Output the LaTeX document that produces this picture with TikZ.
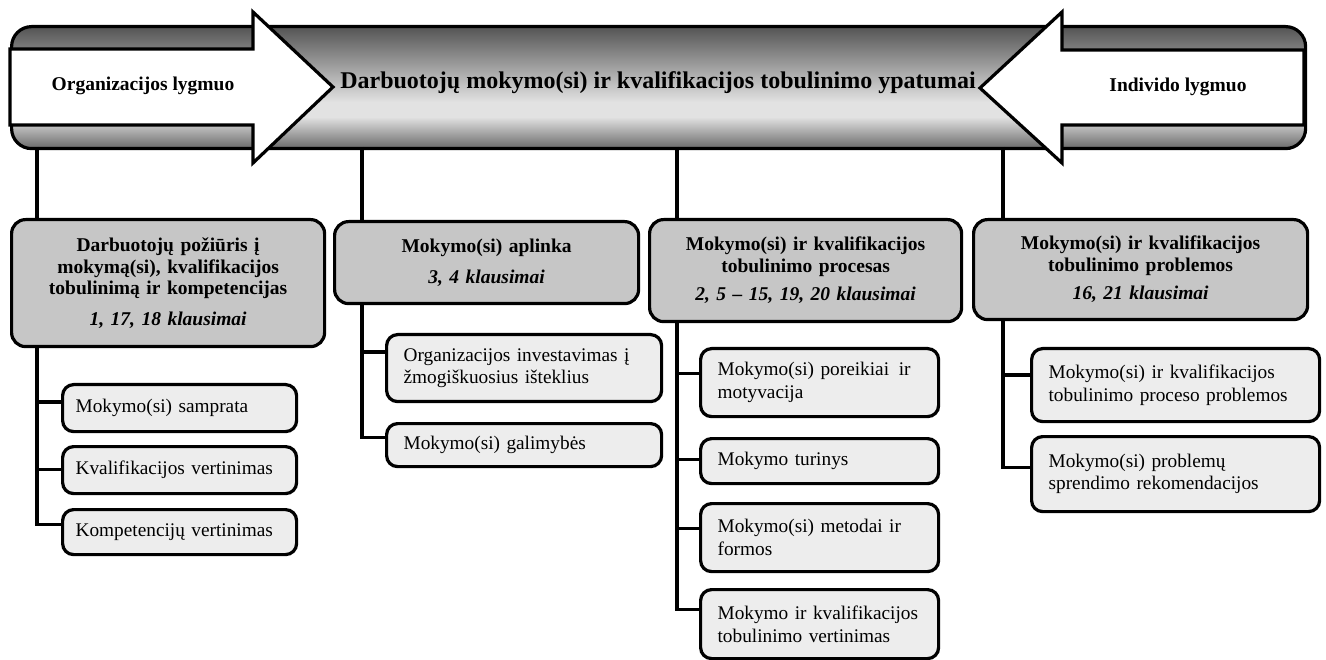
\documentclass[tikz,border=0pt]{standalone}
\usepackage{fontspec}
\setmainfont{Liberation Serif}
\definecolor{bnbot}{HTML}{6A6A6A}
\definecolor{bnlight}{HTML}{E2E2E2}
\definecolor{bntop}{HTML}{545454}
\definecolor{parentgray}{HTML}{C6C6C6}
\definecolor{childgray}{HTML}{EDEDED}
\pgfdeclareverticalshading{bannershade}{100bp}{color(0bp)=(bnbot); color(25bp)=(bnbot); color(38bp)=(bnlight); color(44bp)=(bnlight); color(75bp)=(bntop); color(100bp)=(bntop)}
\begin{document}
\begin{tikzpicture}[x=1pt,y=-1pt,
  link/.style={line width=3.2pt},
  pbox/.style={draw=black, line width=3.2pt, rounded corners=14pt, fill=parentgray,
    anchor=north west, inner sep=0pt, align=center,
    font=\fontsize{19.5}{21.5}\selectfont\bfseries},
  cbox/.style={draw=black, line width=3.2pt, rounded corners=11pt, fill=childgray,
    anchor=north west, inner xsep=17pt, inner ysep=0pt, align=left,
    font=\fontsize{19.3}{22.5}\selectfont},
  levelarrow/.style={draw=black, line width=3.2pt, fill=white, line join=miter},
  levellabel/.style={font=\fontsize{19.5}{23}\selectfont\bfseries}
]
\useasboundingbox (0,0) rectangle (1326,660);

% shaded top banner
\node[draw=black, line width=3.2pt, rounded corners=20pt, shading=bannershade,
  minimum width=1294pt, minimum height=122pt, anchor=north west, inner sep=0pt]
  (banner) at (10,25) {};

% two white arrows pointing to the centre
\draw[levelarrow] (10,49) -- (253,49) -- (253,12) -- (333,87) -- (253,163)
  -- (253,125) -- (10,125) -- cycle;
\draw[levelarrow] (1304,50) -- (1062,50) -- (1062,12) -- (980,88) -- (1062,163)
  -- (1062,125) -- (1304,125) -- cycle;

\node[levellabel] (org) at (143,86) {Organizacijos lygmuo};
\node[levellabel] (ind) at (1178,87) {Individo lygmuo};
\node[font=\fontsize{24}{28}\selectfont\bfseries] (title) at (658,83)
  {Darbuotojų mokymo(si) ir kvalifikacijos tobulinimo ypatumai};

% main topics
\node[pbox, minimum width=313pt, minimum height=127pt, text width=299pt] (p1) at (10,218)
  {Darbuotojų požiūris į\\mokymą(si), kvalifikacijos\\tobulinimą ir kompetencijas\\[9pt]\textit{1, 17, 18 klausimai}};
\node[pbox, minimum width=304pt, minimum height=82pt, text width=290pt] (p2) at (333,220)
  {Mokymo(si) aplinka\\[9pt]\textit{3, 4 klausimai}};
\node[pbox, minimum width=312pt, minimum height=102pt, text width=298pt] (p3) at (648,218)
  {Mokymo(si) ir kvalifikacijos\\tobulinimo procesas\\[7pt]\textit{2, 5 – 15, 19, 20 klausimai}};
\node[pbox, minimum width=334pt, minimum height=100pt, text width=320pt] (p4) at (972,218)
  {Mokymo(si) ir kvalifikacijos\\tobulinimo problemos\\[7pt]\textit{16, 21 klausimai}};

% subtopics
\node[cbox, inner xsep=13pt, minimum width=234pt, minimum height=47pt, text width=208pt] (c11) at (61,383) {Mokymo(si) samprata};
\node[cbox, inner xsep=13pt, minimum width=234pt, minimum height=47pt, text width=208pt] (c12) at (61,445) {Kvalifikacijos vertinimas};
\node[cbox, inner xsep=13pt, minimum width=234pt, minimum height=45pt, text width=208pt] (c13) at (61,508) {Kompetencijų vertinimas};

\node[cbox, minimum width=275pt, minimum height=67pt, text width=241pt] (c21) at (385,333) {Organizacijos investavimas į\\žmogiškuosius išteklius};
\node[cbox, minimum width=275pt, minimum height=43pt, text width=241pt] (c22) at (385,422) {Mokymo(si) galimybės};

\node[cbox, minimum width=238pt, minimum height=68pt, text width=204pt] (c31) at (699,347) {Mokymo(si) poreikiai\, ir\\motyvacija};
\node[cbox, minimum width=238pt, minimum height=45pt, text width=204pt] (c32) at (699,437) {Mokymo turinys};
\node[cbox, minimum width=238pt, minimum height=68pt, text width=204pt] (c33) at (699,502) {Mokymo(si) metodai ir\\formos};
\node[cbox, minimum width=238pt, minimum height=69pt, text width=204pt] (c34) at (699,588) {Mokymo ir kvalifikacijos\\tobulinimo vertinimas};

\node[cbox, minimum width=288pt, minimum height=73pt, text width=254pt] (c41) at (1030,347) {Mokymo(si) ir kvalifikacijos\\tobulinimo proceso problemos};
\node[cbox, minimum width=288pt, minimum height=75pt, text width=254pt] (c42) at (1030,435) {Mokymo(si) problemų\\sprendimo rekomendacijos};

% drop lines from the banner
\coordinate (t1) at (37,147);
\coordinate (t2) at (362,147);
\coordinate (t3) at (677,147);
\coordinate (t4) at (1003,147);
\draw[link] (t1) -- (t1 |- p1.north);
\draw[link] (t2) -- (t2 |- p2.north);
\draw[link] (t3) -- (t3 |- p3.north);
\draw[link] (t4) -- (t4 |- p4.north);

% branch lines to the subtopics
\draw[link] (t1 |- p1.south) |- ([yshift=6pt]c11.west);
\draw[link] (t1 |- p1.south) |- ([yshift=1pt]c12.west);
\draw[link] (t1 |- p1.south) |- ([yshift=8pt]c13.west);

\draw[link] (t2 |- p2.south) |- ([yshift=16pt]c21.west);
\draw[link] (t2 |- p2.south) |- ([yshift=8pt]c22.west);

\draw[link] (t3 |- p3.south) |- ([yshift=9pt]c31.west);
\draw[link] (t3 |- p3.south) |- ([yshift=2pt]c32.west);
\draw[link] (t3 |- p3.south) |- ([yshift=9pt]c33.west);
\draw[link] (t3 |- p3.south) |- ([yshift=15pt]c34.west);

\draw[link] (t4 |- p4.south) |- ([yshift=10pt]c41.west);
\draw[link] (t4 |- p4.south) |- ([yshift=7pt]c42.west);
\end{tikzpicture}
\end{document}
